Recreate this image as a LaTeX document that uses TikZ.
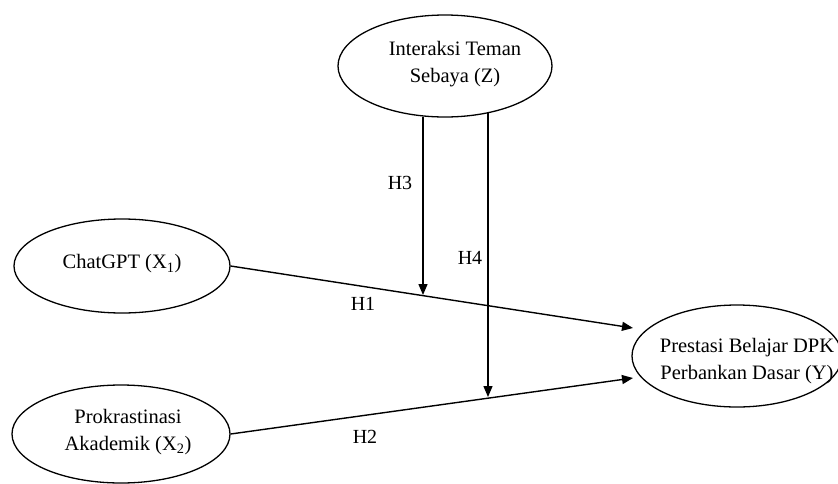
\documentclass[tikz,border=0pt]{standalone}
\usepackage{fontspec}
\setmainfont{Liberation Serif}
\usetikzlibrary{shapes.geometric,arrows.meta}
\begin{document}
\begin{tikzpicture}[x=1pt,y=-1pt,
  ell/.style={draw, ellipse, line width=1.3pt, inner sep=0pt},
  txt/.style={align=center, font=\fontsize{20.5}{27}\selectfont, inner sep=0pt},
  lbl/.style={font=\fontsize{20}{24}\selectfont, inner sep=0pt},
  arr/.style={line width=1.4pt, -{Triangle[length=11pt,width=9pt]}}]
\useasboundingbox (0,0) rectangle (838,483);
% ellipses
\node[ell, minimum width=214pt, minimum height=102pt] (z) at (445,66) {};
\node[ell, minimum width=216pt, minimum height=94pt] (x1) at (122,266) {};
\node[ell, minimum width=218pt, minimum height=98pt] (x2) at (121,434) {};
\node[ell, minimum width=210pt, minimum height=102pt] (y) at (737,356) {};
% texts
\node[txt] (zt) at (455,64) {Interaksi Teman\\Sebaya (Z)};
\node[txt] (x1t) at (122,264) {ChatGPT (X\textsubscript{1})};
\node[txt] (x2t) at (128,432) {Prokrastinasi\\Akademik (X\textsubscript{2})};
\node[txt] (yt) at (747,361) {Prestasi Belajar DPK\\Perbankan Dasar (Y)};
% arrow ends
\coordinate (t1) at (633,328);
\coordinate (t2) at (633,378);
\coordinate (m1) at (423,295);
\coordinate (m2) at (488,397);
\draw[arr] (x1.east) -- (t1);
\draw[arr] (x2.east) -- (t2);
\draw[arr] (m1 |- z.246) -- (m1);
\draw[arr] (m2 |- z.312) -- (m2);
% labels
\node[lbl] (h1) at (363,304) {H1};
\node[lbl] (h2) at (365,437) {H2};
\node[lbl] (h3) at (400,183) {H3};
\node[lbl] (h4) at (470,258) {H4};
\end{tikzpicture}
\end{document}
